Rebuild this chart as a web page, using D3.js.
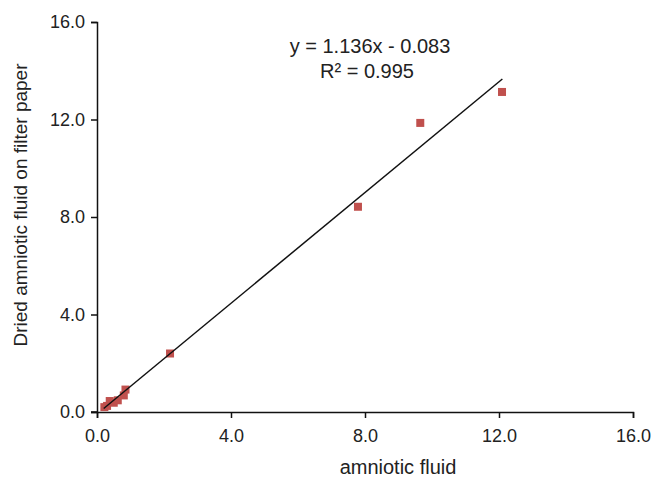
<!DOCTYPE html>
<html><head><meta charset="utf-8">
<script src="https://cdn.jsdelivr.net/npm/d3@7"></script>
<style>body{margin:0;background:#fff}text{font-family:"Liberation Sans",Arial,sans-serif;fill:#222}</style>
</head><body><svg id="c" width="653" height="478"></svg>
<script>
const xVals = [0.22, 0.30, 0.38, 0.50, 0.62, 0.80, 0.85, 2.18, 7.79, 9.65, 12.09];
const yVals = [0.20, 0.25, 0.45, 0.38, 0.48, 0.68, 0.92, 2.40, 8.42, 11.86, 13.13];
const tickVals = [0, 4, 8, 12, 16];
const slope = 1.136, intercept = -0.083, r2 = "0.995";
const fitRange = [0.2, 12.1];

const svg = d3.select("#c");
const x = d3.scaleLinear().domain([0,16]).range([97,633]);
const y = d3.scaleLinear().domain([0,16]).range([412,22]);

const xa = svg.append("g").attr("transform","translate(0,412)")
  .call(d3.axisBottom(x).tickValues(tickVals).tickFormat(d3.format(".1f")).tickSizeOuter(0).tickSize(6));
const ya = svg.append("g").attr("transform","translate(97,0)")
  .call(d3.axisLeft(y).tickValues(tickVals).tickFormat(d3.format(".1f")).tickSizeOuter(0).tickSize(6));
[xa,ya].forEach(a=>{
  a.select(".domain").attr("stroke","#111").attr("stroke-width",1.5);
  a.selectAll(".tick line").attr("stroke","#111").attr("stroke-width",1.5);
  a.selectAll(".tick text").attr("font-size",18).attr("fill","#222").style("font-family","Liberation Sans, Arial, sans-serif");
});
xa.selectAll(".tick text").attr("dy",null).attr("y",30);
ya.selectAll(".tick text").attr("x",-12);
svg.append("line").attr("x1",91).attr("x2",97).attr("y1",412).attr("y2",412).attr("stroke","#111").attr("stroke-width",1.5);

const data = xVals.map((v,i)=>({x:v,y:yVals[i]}));
const s = 8;
svg.append("g").selectAll("rect").data(data).join("rect")
  .attr("x",d=>x(d.x)-s/2).attr("y",d=>y(d.y)-s/2).attr("width",s).attr("height",s)
  .attr("fill","#c0504d");

svg.append("line")
  .attr("x1",x(fitRange[0])).attr("y1",y(slope*fitRange[0]+intercept))
  .attr("x2",x(fitRange[1])).attr("y2",y(slope*fitRange[1]+intercept))
  .attr("stroke","#111").attr("stroke-width",1.5);

svg.append("text").attr("x",370).attr("y",53).attr("text-anchor","middle").attr("font-size",20)
  .text(`y = ${slope}x - ${Math.abs(intercept)}`);
svg.append("text").attr("x",367).attr("y",78).attr("text-anchor","middle").attr("font-size",20)
  .text(`R² = ${r2}`);

svg.append("text").attr("x",398).attr("y",474).attr("text-anchor","middle").attr("font-size",20)
  .text("amniotic fluid");
svg.append("text").attr("transform","translate(27,205) rotate(-90)").attr("text-anchor","middle").attr("font-size",19)
  .text("Dried amniotic fluid on filter paper");
</script></body></html>
